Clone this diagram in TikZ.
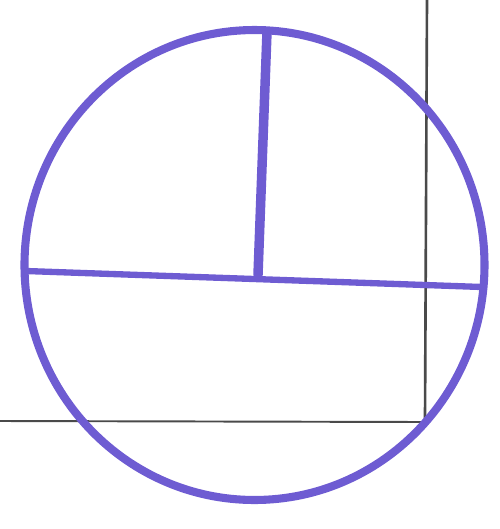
\documentclass[tikz,border=0pt]{standalone}
\usepackage{tikz}
\definecolor{skpurple}{HTML}{6E5CD2}
\definecolor{skgrid}{HTML}{4A4A4A}

\begin{document}
\begin{tikzpicture}[x=0.02cm,y=-0.02cm,line cap=round]
  \useasboundingbox (0,0) rectangle (500,529);
  % pencil guide lines
  \draw[skgrid,line width=1.5pt] (427,0) -- (425,422);
  \draw[skgrid,line width=1.1pt] (0,421) -- (425,422);
  % circle with its cuts
  \draw[skpurple,line width=4.6pt] (254.5,265) ellipse (230 and 235);
  \draw[skpurple,line width=3.6pt] (26,271) -- (482,287);
  \draw[skpurple,line width=5.4pt] (267,32) -- (258,275);
\end{tikzpicture}
\end{document}
